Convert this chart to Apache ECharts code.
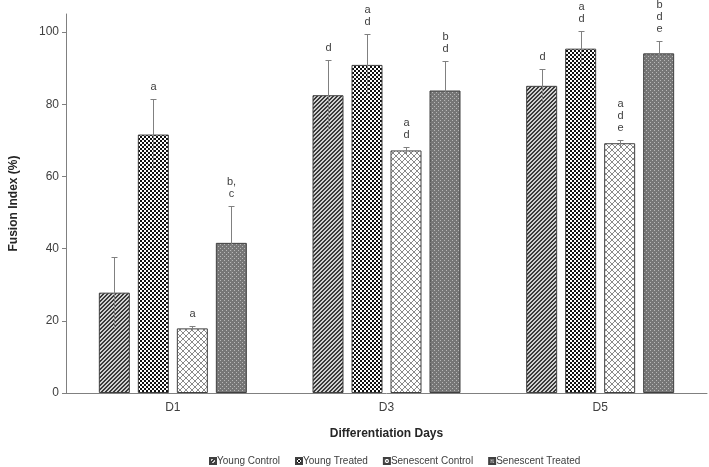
<!DOCTYPE html>
<html>
<head>
<meta charset="utf-8">
<script src="https://cdn.jsdelivr.net/npm/echarts@6/dist/echarts.min.js"></script>
<style>html,body{margin:0;padding:0;background:#fff}#c{width:709px;height:467px}</style>
</head>
<body>
<div id="c"></div>
<script>
const categories = ['D1', 'D3', 'D5'];
const seriesNames = ['Young Control', 'Young Treated', 'Senescent Control', 'Senescent Treated'];
const youngControl = [27.8, 82.5, 85.1];
const youngTreated = [71.6, 90.9, 95.4];
const senescentControl = [17.9, 67.2, 69.2];
const senescentTreated = [41.6, 83.8, 94.1];
const youngControlErr = [10.0, 9.7, 4.6];
const youngTreatedErr = [9.8, 8.6, 5.0];
const senescentControlErr = [0.8, 1.0, 0.8];
const senescentTreatedErr = [10.2, 8.3, 3.4];
const youngControlSig = ['', 'd', 'd'];
const youngTreatedSig = ['a', 'a\nd', 'a\nd'];
const senescentControlSig = ['a', 'a\nd', 'a\nd\ne'];
const senescentTreatedSig = ['b,\nc', 'b\nd', 'b\nd\ne'];
const yTicks = [0, 20, 40, 60, 80, 100];

const values = [youngControl, youngTreated, senescentControl, senescentTreated];
const errors = [youngControlErr, youngTreatedErr, senescentControlErr, senescentTreatedErr];
const sigs = [youngControlSig, youngTreatedSig, senescentControlSig, senescentTreatedSig];

function pattern(size, fn) {
  const c = document.createElement('canvas');
  c.width = size; c.height = size;
  const ctx = c.getContext('2d');
  for (let y = 0; y < size; y++) for (let x = 0; x < size; x++) {
    ctx.fillStyle = fn(x, y);
    ctx.fillRect(x, y, 1, 1);
  }
  return { image: c, repeat: 'repeat' };
}
const patterns = [
  pattern(4, (x, y) => ((x + y) % 4 < 2 ? '#3a3a3a' : '#d0d0d0')),
  pattern(4, (x, y) => ((Math.floor(x / 2) + Math.floor(y / 2)) % 2 === 0 ? '#111111' : '#ffffff')),
  pattern(6, (x, y) => (x === y || x + y === 5 ? '#8a8a8a' : '#ffffff')),
  pattern(4, (x, y) => ((x === 0 && y === 0) || (x === 2 && y === 2) ? '#b8b8b8' : '#767676'))
];

const BAR_W = 31, GAP = 8;
const n = seriesNames.length;
const groupW = n * BAR_W + (n - 1) * GAP;

const series = [];
seriesNames.forEach((name, i) => {
  series.push({
    name: name,
    type: 'bar',
    barWidth: BAR_W,
    barGap: (GAP / BAR_W * 100) + '%',
    data: values[i],
    itemStyle: { color: patterns[i], borderColor: '#404040', borderWidth: 1 },
    z: 2
  });
});
seriesNames.forEach((name, i) => {
  const offset = -groupW / 2 + BAR_W / 2 + i * (BAR_W + GAP);
  series.push({
    type: 'custom',
    name: name + ' err',
    z: 5,
    data: values[i].map((v, k) => [k, v, errors[i][k]]),
    renderItem: function (params, api) {
      const k = api.value(0), v = api.value(1), e = api.value(2);
      const top = api.coord([k, v + e]);
      const bot = api.coord([k, v - e]);
      const x = Math.round(top[0] + offset) + 0.5;
      const ty = Math.round(top[1]) + 0.5;
      const st = { stroke: '#808080', lineWidth: 1 };
      return {
        type: 'group',
        children: [
          { type: 'line', shape: { x1: x, y1: ty, x2: x, y2: bot[1] }, style: st },
          { type: 'line', shape: { x1: x - 3, y1: ty, x2: x + 3, y2: ty }, style: st },
          { type: 'text', x: x, y: ty - 7, style: {
              text: sigs[i][params.dataIndex], fill: '#404040', fontSize: 11,
              fontFamily: 'Liberation Sans, Arial, sans-serif', lineHeight: 12,
              align: 'center', verticalAlign: 'bottom' } }
        ]
      };
    }
  });
});

const chart = echarts.init(document.getElementById('c'), null, { renderer: 'canvas' });
chart.setOption({
  animation: false,
  textStyle: { fontFamily: 'Liberation Sans, Arial, sans-serif' },
  grid: { left: 65, right: 2, top: 14, bottom: 74, containLabel: false },
  legend: {
    data: seriesNames,
    left: 204,
    top: 451,
    itemWidth: 6,
    itemHeight: 6,
    itemGap: 15,
    icon: 'rect',
    textStyle: { fontSize: 10, color: '#404040', padding: [0, 0, 0, -4] }
  },
  xAxis: {
    type: 'category',
    data: categories,
    axisLine: { lineStyle: { color: '#808080', width: 1 } },
    axisTick: { show: false },
    axisLabel: { fontSize: 12, color: '#404040', margin: 9 },
    name: 'Differentiation Days',
    nameLocation: 'middle',
    nameGap: 35,
    nameTextStyle: { fontSize: 12, fontWeight: 'bold', color: '#262626' }
  },
  yAxis: {
    type: 'value',
    min: 0,
    max: 105,
    interval: 20,
    axisLine: { show: true, lineStyle: { color: '#808080', width: 1 } },
    axisTick: { show: true, inside: false, length: 4, customValues: yTicks, lineStyle: { color: '#808080' } },
    axisLabel: { fontSize: 12, color: '#404040', margin: 7, customValues: yTicks },
    splitLine: { show: false },
    name: 'Fusion Index (%)',
    nameLocation: 'middle',
    nameGap: 46,
    nameTextStyle: { fontSize: 12, fontWeight: 'bold', color: '#262626' }
  },
  series: series
});
</script>
</body>
</html>
